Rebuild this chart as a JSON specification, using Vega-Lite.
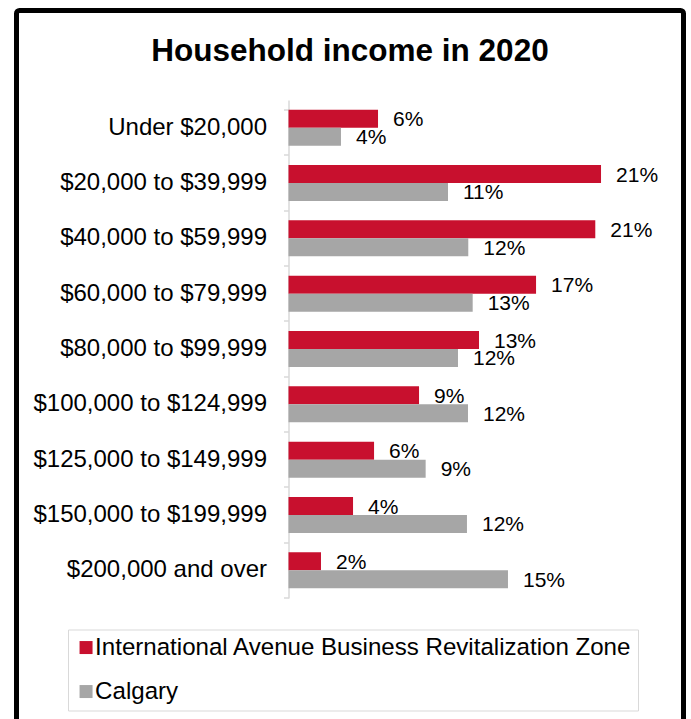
{
  "$schema": "https://vega.github.io/schema/vega-lite/v6.json",
  "width": 667,
  "height": 712,
  "autosize": {"type": "none"},
  "padding": {"left": 16.5, "top": 10.5, "right": 7.5, "bottom": 0},
  "background": "white",
  "config": {
    "view": {"stroke": "black", "strokeWidth": 5, "cornerRadius": 3},
    "font": "Liberation Sans"
  },
  "title": {
    "text": "Household income in 2020",
    "font": "Liberation Sans",
    "fontSize": 31.5,
    "fontWeight": "bold",
    "color": "black",
    "anchor": "middle",
    "frame": "group",
    "baseline": "alphabetic",
    "offset": -94
  },
  "data": {
    "values": [
      {"bracket": "Under $20,000", "series": "International Avenue Business Revitalization Zone", "share": 0.0609},
      {"bracket": "Under $20,000", "series": "Calgary", "share": 0.0357},
      {"bracket": "$20,000 to $39,999", "series": "International Avenue Business Revitalization Zone", "share": 0.2126},
      {"bracket": "$20,000 to $39,999", "series": "Calgary", "share": 0.1085},
      {"bracket": "$40,000 to $59,999", "series": "International Avenue Business Revitalization Zone", "share": 0.2087},
      {"bracket": "$40,000 to $59,999", "series": "Calgary", "share": 0.1223},
      {"bracket": "$60,000 to $79,999", "series": "International Avenue Business Revitalization Zone", "share": 0.1684},
      {"bracket": "$60,000 to $79,999", "series": "Calgary", "share": 0.1253},
      {"bracket": "$80,000 to $99,999", "series": "International Avenue Business Revitalization Zone", "share": 0.1296},
      {"bracket": "$80,000 to $99,999", "series": "Calgary", "share": 0.1153},
      {"bracket": "$100,000 to $124,999", "series": "International Avenue Business Revitalization Zone", "share": 0.0888},
      {"bracket": "$100,000 to $124,999", "series": "Calgary", "share": 0.1221},
      {"bracket": "$125,000 to $149,999", "series": "International Avenue Business Revitalization Zone", "share": 0.0582},
      {"bracket": "$125,000 to $149,999", "series": "Calgary", "share": 0.0933},
      {"bracket": "$150,000 to $199,999", "series": "International Avenue Business Revitalization Zone", "share": 0.0439},
      {"bracket": "$150,000 to $199,999", "series": "Calgary", "share": 0.1214},
      {"bracket": "$200,000 and over", "series": "International Avenue Business Revitalization Zone", "share": 0.0221},
      {"bracket": "$200,000 and over", "series": "Calgary", "share": 0.1493}
    ]
  },
  "encoding": {
    "y": {
      "field": "bracket",
      "type": "nominal",
      "sort": ["Under $20,000", "$20,000 to $39,999", "$40,000 to $59,999", "$60,000 to $79,999", "$80,000 to $99,999", "$100,000 to $124,999", "$125,000 to $149,999", "$150,000 to $199,999", "$200,000 and over"],
      "scale": {"range": [89.5, 587.5], "paddingInner": 0.35, "paddingOuter": 0.175},
      "axis": {
        "orient": "left",
        "offset": -272,
        "title": null,
        "domainColor": "#d9d9d9",
        "domainWidth": 1.5,
        "tickColor": "#d9d9d9",
        "tickWidth": 1.5,
        "tickSize": 5,
        "bandPosition": 1.269,
        "tickExtra": true,
        "labelFont": "Liberation Sans",
        "labelFontSize": 24,
        "labelColor": "black",
        "labelPadding": 17,
        "labelLimit": 400
      }
    },
    "yOffset": {
      "field": "series",
      "type": "nominal",
      "sort": ["International Avenue Business Revitalization Zone", "Calgary"],
      "scale": {"paddingInner": 0, "paddingOuter": 0}
    },
    "x": {
      "field": "share",
      "type": "quantitative",
      "scale": {"domain": [0, 0.22], "range": [272, 595.4], "nice": false, "zero": true},
      "axis": null
    }
  },
  "layer": [
    {
      "mark": {"type": "bar"},
      "encoding": {
        "color": {
          "field": "series",
          "type": "nominal",
          "sort": ["International Avenue Business Revitalization Zone", "Calgary"],
          "scale": {
            "domain": ["International Avenue Business Revitalization Zone", "Calgary"],
            "range": ["#C8102E", "#A6A6A6"]
          },
          "legend": {
            "orient": "none",
            "legendX": 51.5,
            "legendY": 619,
            "title": null,
            "direction": "vertical",
            "symbolType": "square",
            "symbolSize": 169,
            "symbolStrokeWidth": 0,
            "symbolOpacity": 1,
            "labelFont": "Liberation Sans",
            "labelFontSize": 24.1,
            "labelColor": "black",
            "labelLimit": 700,
            "labelOffset": -3,
            "strokeColor": "#d9d9d9",
            "padding": 6,
            "rowPadding": 19
          }
        }
      }
    },
    {
      "mark": {"type": "text", "align": "left", "baseline": "middle", "dx": 15, "dy": 1.5, "fontSize": 21, "color": "black", "font": "Liberation Sans"},
      "encoding": {
        "text": {"field": "share", "type": "quantitative", "format": ".0%"}
      }
    }
  ]
}
